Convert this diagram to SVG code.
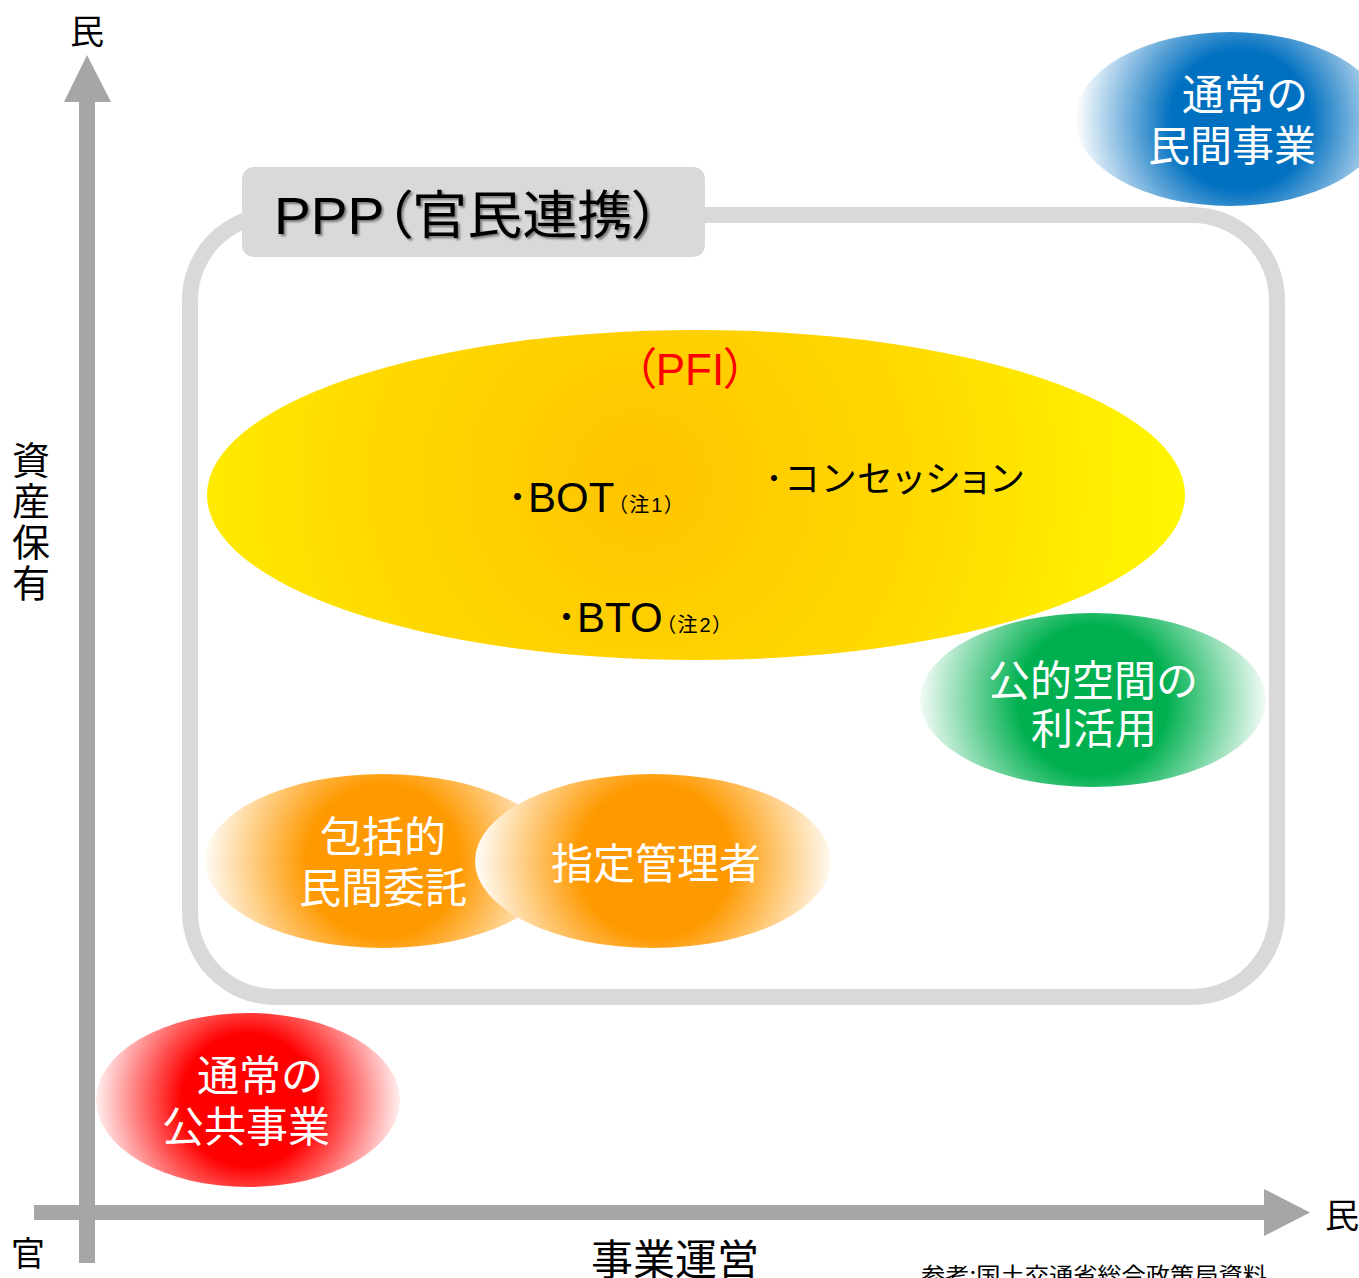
<svg xmlns="http://www.w3.org/2000/svg" width="1359" height="1278" viewBox="0 0 1359 1278">
<style>
.jp{font-family:"Noto Sans CJK JP","Noto Sans CJK SC",sans-serif;}
.mix{font-family:"Liberation Sans","Noto Sans CJK JP",sans-serif;}
.palt{font-feature-settings:"palt";}
.w{fill:#ffffff;font-size:42px;text-anchor:middle;}
.axis{fill:#a6a6a6;}
.lbl{fill:#000000;font-size:34px;text-anchor:middle;}
</style>
<defs>
<filter id="sh" x="-10%" y="-20%" width="120%" height="140%">
<feDropShadow dx="2" dy="2" stdDeviation="1.2" flood-color="#000" flood-opacity="0.45"/>
</filter>
<radialGradient id="gY" gradientUnits="userSpaceOnUse" cx="640" cy="480" r="540">
<stop offset="0" stop-color="#FFC400"/>
<stop offset="0.5" stop-color="#FFD800"/>
<stop offset="1" stop-color="#FFF600"/>
</radialGradient>
<radialGradient id="gB" gradientUnits="userSpaceOnUse" cx="1240" cy="120" r="165">
<stop offset="0" stop-color="#0070C0"/>
<stop offset="0.42" stop-color="#0070C0"/>
<stop offset="1" stop-color="#FFFFFF"/>
</radialGradient>
<radialGradient id="gG" gradientUnits="userSpaceOnUse" cx="1093" cy="700" r="178">
<stop offset="0" stop-color="#00B050"/>
<stop offset="0.42" stop-color="#00B050"/>
<stop offset="1" stop-color="#FFFFFF"/>
</radialGradient>
<radialGradient id="gO1" gradientUnits="userSpaceOnUse" cx="383" cy="861" r="182">
<stop offset="0" stop-color="#FF9900"/>
<stop offset="0.42" stop-color="#FF9900"/>
<stop offset="1" stop-color="#FFFFFF"/>
</radialGradient>
<radialGradient id="gO2" gradientUnits="userSpaceOnUse" cx="655" cy="861" r="182">
<stop offset="0" stop-color="#FF9900"/>
<stop offset="0.42" stop-color="#FF9900"/>
<stop offset="1" stop-color="#FFFFFF"/>
</radialGradient>
<radialGradient id="gR" gradientUnits="userSpaceOnUse" cx="248" cy="1100" r="158">
<stop offset="0" stop-color="#FF0000"/>
<stop offset="0.42" stop-color="#FF0000"/>
<stop offset="1" stop-color="#FFFFFF"/>
</radialGradient>
</defs>
<rect width="1359" height="1278" fill="#ffffff"/>

<g id="axes">
<rect class="axis" x="79" y="100" width="16" height="1163"/>
<polygon class="axis" points="87,55 64,102 111,102"/>
<rect class="axis" x="34" y="1205" width="1232" height="15"/>
<polygon class="axis" points="1264,1189 1310,1212.5 1264,1236"/>
</g>

<g id="axis-labels">
<text class="jp lbl" x="87" y="44">民</text>
<text class="jp lbl" x="1342" y="1228">民</text>
<text class="jp lbl" x="28" y="1266">官</text>
<text class="jp" x="675" y="1275" font-size="42" text-anchor="middle" fill="#000">事業運営</text>
<text class="jp" x="31" y="441" font-size="38" fill="#000" writing-mode="vertical-rl" letter-spacing="3">資産保有</text>
<text class="jp" x="921" y="1283" font-size="22" fill="#000" textLength="346" lengthAdjust="spacingAndGlyphs">参考:国土交通省総合政策局資料</text>
</g>

<g id="ppp">
<rect x="190" y="215" width="1087" height="782" rx="85" ry="85" fill="none" stroke="#d9d9d9" stroke-width="16"/>
<rect x="242" y="167" width="463" height="90" rx="12" ry="12" fill="#d9d9d9"/>
<text class="mix palt" x="274" y="234" font-size="52" fill="#000" filter="url(#sh)" textLength="386" lengthAdjust="spacingAndGlyphs">PPP（官民連携）</text>
</g>

<g id="pfi">
<ellipse cx="696" cy="495" rx="489" ry="165" fill="url(#gY)"/>
<text class="mix palt" x="690" y="385" font-size="44" text-anchor="middle" fill="#FF0000">（PFI）</text>
<text class="mix palt" x="507" y="512" font-size="42" fill="#000">･BOT<tspan font-size="20" dx="3" letter-spacing="2">（注1）</tspan></text>
<text class="mix palt" x="765" y="492" font-size="36" fill="#000" textLength="258">･コンセッション</text>
<text class="mix palt" x="556" y="632" font-size="42" fill="#000">･BTO<tspan font-size="20" dx="3" letter-spacing="2">（注2）</tspan></text>
</g>

<g id="private-business">
<ellipse cx="1230" cy="119" rx="155" ry="87" fill="url(#gB)"/>
<text class="jp w" x="1245" y="110">通常の</text>
<text class="jp w" x="1232" y="161">民間事業</text>
</g>

<g id="public-space">
<ellipse cx="1093" cy="700" rx="173" ry="87" fill="url(#gG)"/>
<text class="jp w" x="1093" y="696">公的空間の</text>
<text class="jp w" x="1094" y="744">利活用</text>
</g>

<g id="comprehensive-outsourcing">
<ellipse cx="383" cy="861" rx="178" ry="87" fill="url(#gO1)"/>
<text class="jp w" x="383" y="852">包括的</text>
<text class="jp w" x="383" y="903">民間委託</text>
</g>

<g id="designated-manager">
<ellipse cx="653" cy="861" rx="178" ry="87" fill="url(#gO2)"/>
<text class="jp w" x="656" y="879">指定管理者</text>
</g>

<g id="public-works">
<ellipse cx="248" cy="1100" rx="152" ry="87" fill="url(#gR)"/>
<text class="jp w" x="260" y="1091">通常の</text>
<text class="jp w" x="246" y="1142">公共事業</text>
</g>
</svg>
